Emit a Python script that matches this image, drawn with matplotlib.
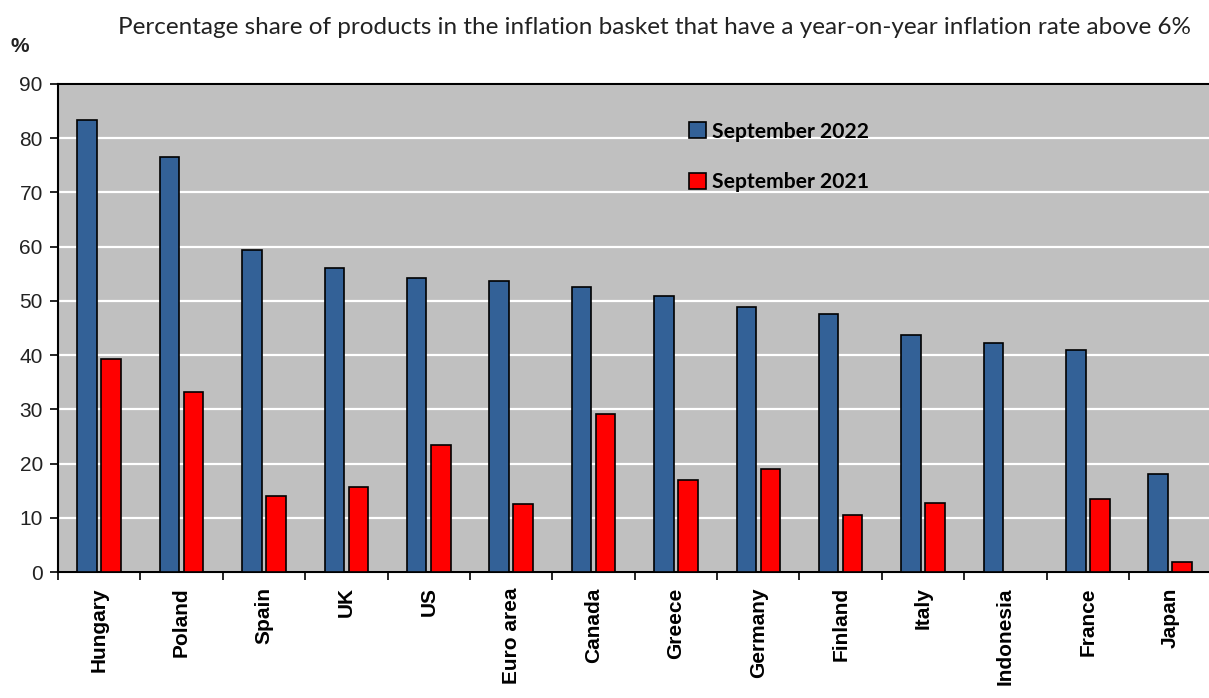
import matplotlib
matplotlib.use("Agg")
import matplotlib.pyplot as plt
import numpy as np

countries = ["Hungary", "Poland", "Spain", "UK", "US", "Euro area", "Canada",
             "Greece", "Germany", "Finland", "Italy", "Indonesia", "France", "Japan"]
sep_2022 = [83.4, 76.5, 59.3, 56.0, 54.2, 53.6, 52.5, 50.9, 48.8, 47.5, 43.7, 42.3, 41.0, 18.1]
sep_2021 = [39.3, 33.2, 14.0, 15.7, 23.4, 12.6, 29.2, 17.0, 19.0, 10.6, 12.7, np.nan, 13.4, 1.8]
yticks = [0, 10, 20, 30, 40, 50, 60, 70, 80, 90]
title = "Percentage share of products in the inflation basket that have a year-on-year inflation rate above 6%"

fig = plt.figure(figsize=(12.09, 6.98), dpi=100)
ax = fig.add_axes([0.048, 0.1805, 0.954, 0.6992])
ax.set_facecolor("#C0C0C0")

x = np.arange(len(countries))
w = 0.237
off = 0.146
ax.bar(x - off, sep_2022, width=w, color="#336197", edgecolor="black", linewidth=1.2,
       label="September 2022", zorder=3)
ax.bar(x + off, sep_2021, width=w, color="#FF0000", edgecolor="black", linewidth=1.2,
       label="September 2021", zorder=3)

ax.set_xlim(-0.5, len(countries) - 0.5)
ax.set_ylim(0, 90)
ax.set_yticks(yticks)
ax.yaxis.grid(True, color="white", linewidth=1.6, zorder=1)
ax.set_axisbelow(True)

ax.set_xticks(x)
ax.set_xticklabels(countries, rotation=90, fontsize=15, fontweight="bold",
                   family="Liberation Sans", va="top")
ax.tick_params(axis="x", which="major", length=0, pad=11)
ax.set_xticks(np.arange(-0.5, len(countries), 1), minor=True)
ax.tick_params(axis="x", which="minor", length=6, width=1.2, direction="out")
ax.tick_params(axis="y", length=6, width=1.2, labelsize=15, pad=5, labelcolor="#222222")
for lab in ax.get_yticklabels():
    lab.set_family("Liberation Sans")

for s in ["left", "bottom", "top"]:
    ax.spines[s].set_linewidth(1.5)
    ax.spines[s].set_color("black")
ax.spines["right"].set_visible(False)

leg = ax.legend(loc="upper left", bbox_to_anchor=(0.531, 0.962), frameon=False,
                handlelength=0.8, handleheight=0.8, handletextpad=0.25,
                labelspacing=1.45, prop={"family": "Lato", "weight": "bold", "size": 15.2})

fig.text(0.009, 0.934, "%", fontsize=15, fontweight="bold", family="Liberation Sans",
         ha="left", va="center", color="#222222")
fig.text(0.0975, 0.96, title, fontsize=17.5, family="Lato", ha="left", va="center",
         color="#222222")

fig.savefig("out.png", dpi=100)
